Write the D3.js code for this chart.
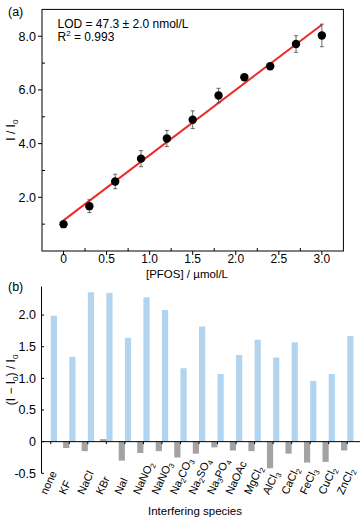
<!DOCTYPE html>
<html><head><meta charset="utf-8">
<script src="https://cdn.jsdelivr.net/npm/d3@7"></script>
<style>body{margin:0;background:#fff;}svg{display:block;font-family:"Liberation Sans",Arial,sans-serif;}</style>
</head><body>
<script>
// Panel (a) data
const concX = [0, 0.3, 0.6, 0.9, 1.2, 1.5, 1.8, 2.1, 2.4, 2.7, 3.0];
const ratioY = [1.0, 1.67, 2.59, 3.44, 4.19, 4.89, 5.79, 6.47, 6.88, 7.71, 8.03];
const ratioErr = [0.05, 0.24, 0.27, 0.3, 0.3, 0.33, 0.27, 0.08, 0.08, 0.31, 0.42];
const fitX = [0, 3.0];
const fitY = [1.14, 8.43];
const aXTicks = [0, 0.5, 1.0, 1.5, 2.0, 2.5, 3.0];
const aYTicks = [2.0, 4.0, 6.0, 8.0];

// Panel (b) data
const species = ["none","KF","NaCl","KBr","NaI","NaNO2","NaNO3","Na2CO3","Na2SO4","Na3PO4","NaOAc","MgCl2","AlCl3","CaCl2","FeCl3","CuCl2","ZnCl2"];
const withPFOS = [1.99, 1.34, 2.36, 2.35, 1.64, 2.28, 2.08, 1.16, 1.82, 1.07, 1.37, 1.61, 1.33, 1.57, 0.96, 1.07, 1.67];
const withoutPFOS = [0, -0.10, -0.15, 0.04, -0.30, -0.18, -0.15, -0.25, -0.19, -0.09, -0.14, -0.15, -0.42, -0.19, -0.33, -0.32, -0.14];
const bYTicks = [-0.5, 0, 0.5, 1.0, 1.5, 2.0];

const W = 364, H = 523;
const svg = d3.select("body").append("svg").attr("width", W).attr("height", H);
const axisCol = "#000";

// ---------- Panel (a)
const ax = d3.scaleLinear().domain([-0.25, 3.25]).range([42, 343.4]);
const ay = d3.scaleLinear().domain([0, 9]).range([251, 9.4]);
const gA = svg.append("g");
gA.append("rect").attr("x", ax(-0.25)).attr("y", ay(9)).attr("width", ax(3.25) - ax(-0.25)).attr("height", ay(0) - ay(9))
  .attr("fill", "none").attr("stroke", axisCol).attr("stroke-width", 1);

const aXMinor = [0.25, 0.75, 1.25, 1.75, 2.25, 2.75];
gA.selectAll(".xmaj").data(aXTicks).join("line")
  .attr("x1", d => ax(d)).attr("x2", d => ax(d)).attr("y1", ay(0)).attr("y2", ay(0) + 4).attr("stroke", axisCol);
gA.selectAll(".xmin").data(aXMinor).join("line")
  .attr("x1", d => ax(d)).attr("x2", d => ax(d)).attr("y1", ay(0)).attr("y2", ay(0) - 3).attr("stroke", axisCol);
gA.selectAll(".xlab").data(aXTicks).join("text")
  .attr("x", d => ax(d)).attr("y", ay(0) + 12).attr("text-anchor", "middle").attr("font-size", 12)
  .text(d => d === 0 ? "0" : d.toFixed(1));
gA.selectAll(".ymaj").data(aYTicks).join("line")
  .attr("x1", ax(-0.25) - 4).attr("x2", ax(-0.25)).attr("y1", d => ay(d)).attr("y2", d => ay(d)).attr("stroke", axisCol);
gA.selectAll(".ymin").data([1, 3, 5, 7]).join("line")
  .attr("x1", ax(-0.25)).attr("x2", ax(-0.25) + 3).attr("y1", d => ay(d)).attr("y2", d => ay(d)).attr("stroke", axisCol);
gA.selectAll(".ylab").data(aYTicks).join("text")
  .attr("x", ax(-0.25) - 6).attr("y", d => ay(d) + 4.3).attr("text-anchor", "end").attr("font-size", 12.5)
  .text(d => d.toFixed(1));

// fit line
gA.append("line").attr("x1", ax(fitX[0])).attr("y1", ay(fitY[0])).attr("x2", ax(fitX[1])).attr("y2", ay(fitY[1]))
  .attr("stroke", "#ee2a24").attr("stroke-width", 2);
// error bars
const eb = gA.selectAll(".eb").data(concX).join("g");
eb.append("line").attr("x1", d => ax(d)).attr("x2", d => ax(d))
  .attr("y1", (d, i) => ay(ratioY[i] - ratioErr[i])).attr("y2", (d, i) => ay(ratioY[i] + ratioErr[i]))
  .attr("stroke", "#444").attr("stroke-width", 0.8);
[-1, 1].forEach(s => {
  eb.append("line").attr("x1", d => ax(d) - 2).attr("x2", d => ax(d) + 2)
    .attr("y1", (d, i) => ay(ratioY[i] + s * ratioErr[i])).attr("y2", (d, i) => ay(ratioY[i] + s * ratioErr[i]))
    .attr("stroke", "#444").attr("stroke-width", 0.8);
});
gA.selectAll(".pt").data(concX).join("circle")
  .attr("cx", d => ax(d)).attr("cy", (d, i) => ay(ratioY[i])).attr("r", 4.2).attr("fill", "#000");

gA.append("text").attr("x", 57.5).attr("y", 27.5).attr("font-size", 12).text("LOD = 47.3 \u00b1 2.0 nmol/L");
const r2 = gA.append("text").attr("x", 57.5).attr("y", 40.5).attr("font-size", 12);
r2.append("tspan").text("R");
r2.append("tspan").attr("font-size", 8).attr("dy", -4.5).text("2");
r2.append("tspan").attr("dy", 4.5).text(" = 0.993");

gA.append("text").attr("x", 8).attr("y", 16).attr("font-size", 12.5).text("(a)");
const yla = gA.append("text").attr("transform", `translate(15,${(ay(0) + ay(9)) / 2}) rotate(-90)`)
  .attr("text-anchor", "middle").attr("font-size", 12);
yla.append("tspan").text("I / I");
yla.append("tspan").attr("font-size", 8).attr("dy", 3).text("0");
gA.append("text").attr("x", 187).attr("y", 278).attr("text-anchor", "middle").attr("font-size", 11.5)
  .text("[PFOS] / \u00b5mol/L");

// ---------- Panel (b)
const bx = d3.scaleBand().domain(species).range([41.5, 356.5]).padding(0);
const by = d3.scaleLinear().domain([-0.5, 2.45]).range([473.3, 286.6]);
const gB = svg.append("g");
const bw = 6.2;
const cx = s => bx(s) + bx.bandwidth() / 2;

gB.selectAll(".blue").data(species).join("rect")
  .attr("x", d => cx(d)).attr("width", bw)
  .attr("y", (d, i) => by(Math.max(0, withPFOS[i]))).attr("height", (d, i) => Math.abs(by(withPFOS[i]) - by(0)))
  .attr("fill", "#b3d4ee");
gB.selectAll(".gray").data(species).join("rect")
  .attr("x", d => cx(d) - bw).attr("width", bw)
  .attr("y", (d, i) => by(Math.max(0, withoutPFOS[i]))).attr("height", (d, i) => Math.abs(by(withoutPFOS[i]) - by(0)))
  .attr("fill", "#a3a3a3");

// zero line with ticks
gB.append("line").attr("x1", 41.5).attr("x2", 360).attr("y1", by(0)).attr("y2", by(0)).attr("stroke", axisCol);
gB.selectAll(".ct").data(species).join("line")
  .attr("x1", d => cx(d)).attr("x2", d => cx(d)).attr("y1", by(0)).attr("y2", by(0) + 2.5).attr("stroke", axisCol);
// left axis
gB.append("line").attr("x1", 41.5).attr("x2", 41.5).attr("y1", by(2.45)).attr("y2", by(-0.5)).attr("stroke", axisCol);
gB.selectAll(".yt").data(bYTicks).join("line")
  .attr("x1", 41.5).attr("x2", 44).attr("y1", d => by(d)).attr("y2", d => by(d)).attr("stroke", axisCol);
gB.selectAll(".yl").data(bYTicks).join("text")
  .attr("x", 36).attr("y", d => by(d) + 4.3).attr("text-anchor", "end").attr("font-size", 12.5)
  .text(d => d === 0 ? "0" : d.toFixed(1));

// category labels with subscripts (bottom-aligned, rotated)
gB.selectAll(".cl").data(species).join("text")
  .attr("transform", d => `translate(${cx(d) - 4},${by(-0.5) + 22}) rotate(-65)`)
  .attr("text-anchor", "start").attr("font-size", 11)
  .each(function(d) {
    const t = d3.select(this);
    const parts = d.match(/[A-Za-z]+|\d+/g);
    let sub = false;
    parts.forEach(p => {
      if (/\d/.test(p)) {
        t.append("tspan").attr("font-size", 7.5).attr("dy", 2.5).text(p); sub = true;
      } else {
        t.append("tspan").attr("dy", sub ? -2.5 : 0).text(p); sub = false;
      }
    });
  });

gB.append("text").attr("x", 8).attr("y", 291).attr("font-size", 12.5).text("(b)");
const ylb = gB.append("text").attr("transform", `translate(15,${(by(2.45) + by(-0.5)) / 2}) rotate(-90)`)
  .attr("text-anchor", "middle").attr("font-size", 12);
ylb.append("tspan").text("(I \u2212 I");
ylb.append("tspan").attr("font-size", 8).attr("dy", 3).text("0");
ylb.append("tspan").attr("dy", -3).text(") / I");
ylb.append("tspan").attr("font-size", 8).attr("dy", 3).text("0");
gB.append("text").attr("x", 195).attr("y", 515).attr("text-anchor", "middle").attr("font-size", 11.5)
  .text("Interfering species");
</script>
</body></html>
